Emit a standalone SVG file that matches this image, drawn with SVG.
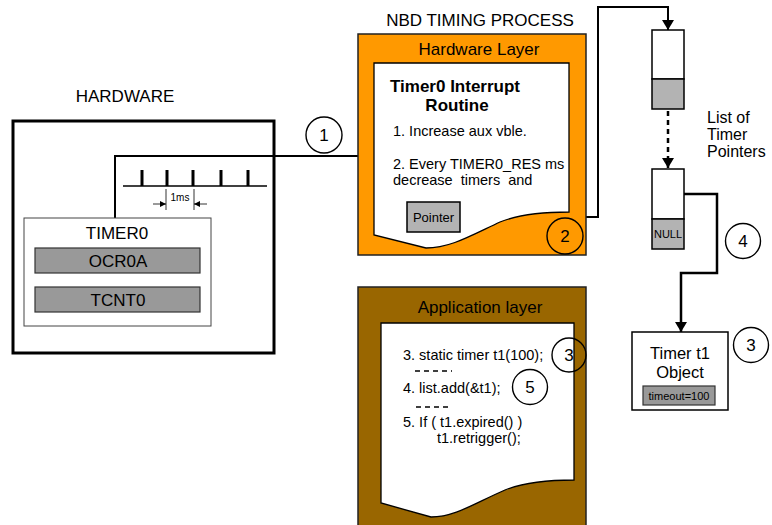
<svg xmlns="http://www.w3.org/2000/svg" width="772" height="525" viewBox="0 0 772 525">
  <defs>
    <style>
      text { font-family: "Liberation Sans", Arial, sans-serif; fill: #000; }
      .t17 { font-size: 17px; }
      .t16 { font-size: 16px; }
      .body { font-size: 14.5px; }
      .mid { text-anchor: middle; }
      .box { fill: #fff; stroke: #000; stroke-width: 1.5; }
      .reg { fill: #999; stroke: #333; stroke-width: 1.2; }
      .cell { fill: #b3b3b3; stroke: #000; stroke-width: 1.5; }
      .doc { fill: #fff; stroke: #000; stroke-width: 1.3; }
      .badge { fill: none; stroke: #000; stroke-width: 1.4; }
      .wire { fill: none; stroke: #000; stroke-width: 2; }
      .thick { fill: none; stroke: #000; stroke-width: 2.5; }
    </style>
    <marker id="head" viewBox="0 0 10 12" refX="10" refY="6" markerWidth="10" markerHeight="12" markerUnits="userSpaceOnUse" orient="auto">
      <path d="M0,0 L10,6 L0,12 Z" fill="#000"/>
    </marker>
    <marker id="tiny" viewBox="0 0 6 6" refX="6" refY="3" markerWidth="6" markerHeight="6" markerUnits="userSpaceOnUse" orient="auto">
      <path d="M0,0 L6,3 L0,6 Z" fill="#000"/>
    </marker>
  </defs>

  <!-- hardware side -->
  <g id="hardware">
    <text class="t17 mid" x="125" y="102">HARDWARE</text>
    <rect x="13" y="121" width="261" height="232" fill="#fff" stroke="#000" stroke-width="3"/>
  </g>

  <!-- connectors -->
  <g id="connectors">
    <!-- interrupt line from timer to ISR -->
    <polyline class="wire" points="115,218 115,156 374,156" stroke-width="1.5"/>
    <!-- pointer to head of list -->
    <polyline class="wire" points="460,217 598,217 598,7 668,7 668,30" marker-end="url(#head)"/>
    <!-- list traversal -->
    <line x1="668" y1="84" x2="668" y2="168" stroke="#000" stroke-width="2.5" stroke-dasharray="5,4" marker-end="url(#head)"/>
    <!-- last list entry to timer object -->
    <polyline class="thick" points="684,194 717,194 717,273 681,273 681,332" marker-end="url(#head)"/>
  </g>

  <!-- 1 ms tick train -->
  <g id="ticks">
    <line x1="123" y1="186" x2="267" y2="186" stroke="#000" stroke-width="1.5"/>
    <g stroke="#000" stroke-width="3">
      <line x1="142" y1="170" x2="142" y2="186"/>
      <line x1="167" y1="170" x2="167" y2="186"/>
      <line x1="193" y1="170" x2="193" y2="186"/>
      <line x1="221" y1="170" x2="221" y2="186"/>
      <line x1="248" y1="170" x2="248" y2="186"/>
    </g>
    <g stroke="#000" stroke-width="0.8">
      <line x1="166" y1="189" x2="166" y2="210"/>
      <line x1="194" y1="189" x2="194" y2="210"/>
      <line x1="153" y1="204" x2="166" y2="204" marker-end="url(#tiny)"/>
      <line x1="207" y1="204" x2="194" y2="204" marker-end="url(#tiny)"/>
    </g>
    <text x="180" y="201" font-size="10" class="mid">1ms</text>
  </g>

  <g id="timer0">
    <rect x="24" y="218" width="187" height="108" fill="#fff" stroke="#444" stroke-width="1"/>
    <text class="t17 mid" x="117" y="239">TIMER0</text>
    <rect class="reg" x="35" y="248" width="165" height="25"/>
    <text class="t17 mid" x="118" y="267">OCR0A</text>
    <rect class="reg" x="35" y="287" width="165" height="25"/>
    <text class="t17 mid" x="118" y="306">TCNT0</text>
  </g>

  <g id="badge1">
    <circle class="badge" cx="324" cy="135" r="18"/>
    <text class="t17 mid" x="324" y="141">1</text>
  </g>

  <!-- hardware layer -->
  <g id="hardware-layer">
    <text class="t17 mid" x="480" y="26">NBD TIMING PROCESS</text>
    <rect x="358" y="34" width="228" height="221" fill="#ff9900" stroke="#222" stroke-width="1.5"/>
    <text class="t17 mid" x="479" y="55">Hardware Layer</text>
    <path class="doc" d="M374,63 H569 V212 C545,212 520,214 500,222 C470,236 450,248 426,248 L374,235 Z"/>
    <text class="mid" x="455" y="92" font-size="17" font-weight="bold">Timer0 Interrupt</text>
    <text class="mid" x="457" y="111" font-size="17" font-weight="bold">Routine</text>
    <text class="body" x="393" y="136">1. Increase aux vble.</text>
    <text class="body" x="393" y="169">2. Every TIMER0_RES ms</text>
    <text class="body" x="393" y="185" xml:space="preserve">decrease  timers  and</text>
  </g>

  <g id="pointer">
    <rect class="cell" x="407" y="202" width="53" height="30" stroke-width="1.2"/>
    <text x="433.5" y="222" font-size="13" class="mid">Pointer</text>
  </g>

  <g id="badge2">
    <circle class="badge" cx="565" cy="236" r="18"/>
    <text class="t17 mid" x="565" y="242">2</text>
  </g>

  <!-- timer list -->
  <g id="list-head">
    <rect class="box" x="652" y="30" width="32" height="49"/>
    <rect class="cell" x="652" y="79" width="32" height="30"/>
  </g>
  <g id="list-tail">
    <rect class="box" x="652" y="169" width="32" height="50"/>
    <rect class="cell" x="652" y="219" width="32" height="30"/>
    <text x="668" y="238" font-size="11" class="mid">NULL</text>
  </g>
  <g id="list-label">
    <text class="t16" x="707" y="123">List of</text>
    <text class="t16" x="707" y="140">Timer</text>
    <text class="t16" x="707" y="157">Pointers</text>
  </g>

  <g id="badge4">
    <circle class="badge" cx="743" cy="241" r="17.5"/>
    <text class="t17 mid" x="743" y="247">4</text>
  </g>

  <g id="timer-t1">
    <rect class="box" x="632" y="332" width="96" height="78"/>
    <text x="680" y="359" font-size="16.5" class="mid">Timer t1</text>
    <text x="680" y="378" font-size="16.5" class="mid">Object</text>
    <rect class="reg" x="643" y="386" width="72" height="19" stroke="#000"/>
    <text x="679" y="400" font-size="11" class="mid">timeout=100</text>
  </g>

  <g id="badge3-object">
    <circle class="badge" cx="751" cy="345" r="17.5"/>
    <text class="t17 mid" x="751" y="351">3</text>
  </g>

  <!-- application layer -->
  <g id="application-layer">
    <rect x="358" y="287" width="228" height="245" fill="#996600" stroke="#222" stroke-width="1.5"/>
    <text class="t17 mid" x="480" y="313">Application layer</text>
    <path class="doc" d="M381,323 H574 V480 C550,480 525,482 505,490 C475,503 455,517 431,517 L381,503 Z"/>
    <text class="body" x="403" y="360">3. static timer t1(100);</text>
    <line x1="415" y1="371" x2="452" y2="371" stroke="#000" stroke-width="1.5" stroke-dasharray="5,4"/>
    <text class="body" x="403" y="393">4. list.add(&amp;t1);</text>
    <line x1="416" y1="407" x2="450" y2="407" stroke="#000" stroke-width="1.5" stroke-dasharray="5,4"/>
    <text class="body" x="403" y="427">5. If ( t1.expired() )</text>
    <text class="body" x="437" y="443">t1.retrigger();</text>
  </g>

  <g id="badge3-app">
    <circle class="badge" cx="569" cy="355" r="17"/>
    <text class="t17 mid" x="569" y="361">3</text>
  </g>
  <g id="badge5">
    <circle class="badge" cx="530" cy="387" r="17.5"/>
    <text class="t17 mid" x="530" y="393">5</text>
  </g>
</svg>
